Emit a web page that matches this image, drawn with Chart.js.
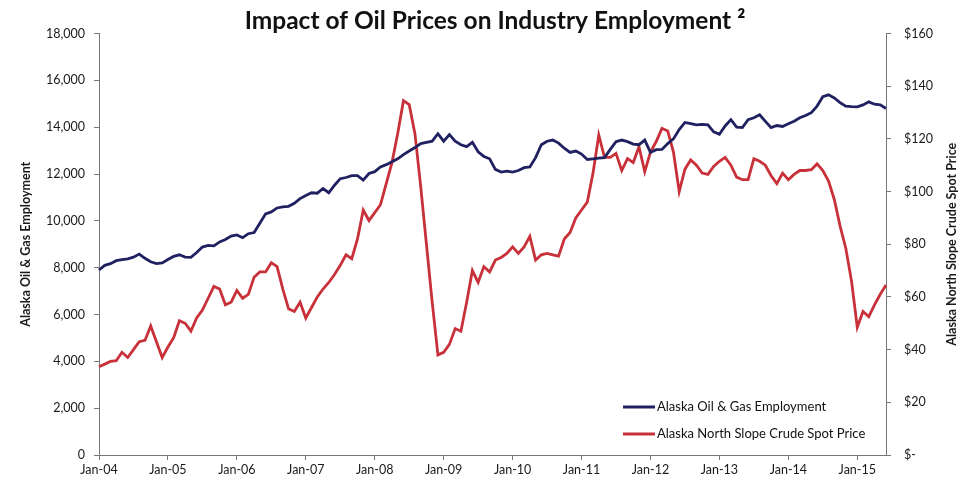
<!DOCTYPE html>
<html lang="en">
<head>
<meta charset="UTF-8">
<title>Impact of Oil Prices on Industry Employment</title>
<script src="https://cdn.jsdelivr.net/npm/chart.js"></script>
<style>
  body { margin: 0; background: #fff; }
  #wrap { width: 972px; height: 482px; }
</style>
</head>
<body>
<div id="wrap"><canvas id="oilChart"></canvas></div>
<script>
// monthly series, Jan-04 .. Jun-15
const monthNames = ['Jan','Feb','Mar','Apr','May','Jun','Jul','Aug','Sep','Oct','Nov','Dec'];
const startYear = 2004;
const monthCount = 138;
const yearTickLabels = ['Jan-04','Jan-05','Jan-06','Jan-07','Jan-08','Jan-09','Jan-10','Jan-11','Jan-12','Jan-13','Jan-14','Jan-15'];
const seriesNames = ['Alaska Oil & Gas Employment', 'Alaska North Slope Crude Spot Price'];

const employment = [
  7900, 8100, 8170, 8300, 8340, 8380, 8450, 8580, 8400, 8250, 8170, 8200,
  8350, 8480, 8550, 8450, 8440, 8650, 8880, 8950, 8930, 9100, 9200, 9350,
  9400, 9280, 9450, 9500, 9900, 10300, 10380, 10550, 10600, 10620, 10750, 10950,
  11080, 11200, 11180, 11380, 11200, 11520, 11800, 11850, 11930, 11930, 11740, 12020,
  12100, 12300, 12400, 12520, 12650, 12830, 12980, 13130, 13300, 13350, 13400, 13720,
  13400, 13680, 13400, 13250, 13170, 13350, 12950, 12750, 12650, 12200, 12080, 12120,
  12080, 12150, 12270, 12300, 12700, 13250, 13400, 13450, 13320, 13100, 12920, 12980,
  12850, 12620, 12650, 12680, 12700, 13050, 13380, 13450, 13380, 13280, 13250, 13450,
  12920, 13040, 13050, 13300, 13500, 13900, 14200, 14150, 14100, 14120, 14100, 13800,
  13700, 14050, 14320, 14000, 13980, 14320, 14400, 14530, 14250, 13980, 14070, 14030,
  14150, 14250, 14400, 14500, 14620, 14900, 15300, 15380, 15250, 15050, 14900, 14880,
  14870, 14950, 15080, 14980, 14950, 14800
];

const crudePrice = [
  33.5, 34.5, 35.5, 35.8, 39, 37, 40, 43, 43.5, 49, 43, 37,
  41, 44.5, 51, 50, 47, 52, 55, 59.5, 64, 63, 57, 58,
  62.5, 59.5, 61, 67.5, 69.5, 69.5, 73, 71.5, 63, 55.5, 54.5, 58,
  52, 56, 60, 63, 65.5, 68.5, 72, 76, 74.5, 82, 93, 89,
  92, 95, 103, 111, 122, 134.5, 133, 122, 102, 80, 58, 38,
  39, 42, 48, 47, 58, 70, 65.5, 71.5, 69.5, 74, 75, 76.5,
  79, 76.5, 79, 83, 74, 76, 76.5, 76, 75.5, 82, 84.5, 90,
  93, 96, 107, 121.5, 113, 113, 114.5, 108, 112.5, 111, 117, 107.5,
  115, 119, 124, 123, 115, 100, 108.5, 112, 110, 107, 106.5, 109.5,
  111.5, 113, 110, 105.5, 104.5, 104.5, 112.5, 111.5, 110, 106, 103, 107,
  104.5, 106.5, 108, 108, 108.3, 110.5, 108, 104, 97, 87, 78.5, 66,
  48.5, 54.5, 52.5, 57, 61, 64.5
];

const monthLabels = Array.from({ length: monthCount }, (_, i) =>
  monthNames[i % 12] + '-' + String((startYear + Math.floor(i / 12)) % 100).padStart(2, '0'));

Chart.defaults.font.family = 'Lato, "Open Sans", sans-serif';
Chart.defaults.color = '#1a1a1a';

// legend inside the plot (bottom right) and the right axis title reading upwards
const extras = {
  id: 'extras',
  afterDraw(chart) {
    const { ctx, chartArea } = chart;
    ctx.save();
    ctx.font = '13px Lato, sans-serif';
    ctx.textBaseline = 'middle';
    chart.data.datasets.forEach((ds, i) => {
      const x = chartArea.right - 263;
      const y = chartArea.bottom - 48 + i * 27;
      ctx.strokeStyle = ds.borderColor;
      ctx.lineWidth = 3;
      ctx.beginPath();
      ctx.moveTo(x, y);
      ctx.lineTo(x + 32, y);
      ctx.stroke();
      ctx.fillStyle = '#111';
      ctx.fillText(ds.label, x + 34, y);
    });

    ctx.translate(chart.width - 20, (chartArea.top + chartArea.bottom) / 2);
    ctx.rotate(-Math.PI / 2);
    ctx.font = 'bold 12.5px Lato, sans-serif';
    ctx.textAlign = 'center';
    ctx.fillStyle = '#1a1a1a';
    ctx.fillText(seriesNames[1], 0, 0);
    ctx.restore();
  }
};

new Chart(document.getElementById('oilChart'), {
  type: 'line',
  data: {
    labels: monthLabels,
    datasets: [
      { label: seriesNames[0], data: employment, yAxisID: 'y', borderColor: '#1f2160', borderWidth: 2.8, pointRadius: 0, tension: 0 },
      { label: seriesNames[1], data: crudePrice, yAxisID: 'y1', borderColor: '#c8303a', borderWidth: 2.8, pointRadius: 0, tension: 0 }
    ]
  },
  options: {
    responsive: true,
    maintainAspectRatio: false,
    animation: false,
    layout: { padding: { left: 18, right: 0, top: 0, bottom: 0 } },
    plugins: {
      legend: { display: false },
      tooltip: { enabled: false },
      title: {
        display: true,
        text: 'Impact of Oil Prices on Industry Employment \u00B2',
        font: { size: 24.5, weight: 'bold', lineHeight: 1.0 },
        color: '#111',
        padding: { top: 9, bottom: 0 }
      }
    },
    scales: {
      x: {
        offset: false,
        afterFit(s) { s.height = 27; },
        border: { display: true, color: '#777' },
        grid: {
          drawOnChartArea: false,
          tickLength: 5,
          color: ctx => (ctx.index % 12 === 0 ? '#777' : 'rgba(0,0,0,0)')
        },
        ticks: {
          autoSkip: false,
          maxRotation: 0,
          minRotation: 0,
          padding: 2,
          font: { size: 12.5 },
          callback: (v, i) => (i % 12 === 0 ? yearTickLabels[i / 12] : '')
        }
      },
      y: {
        position: 'left',
        min: 0,
        max: 18000,
        afterFit(s) { s.width = 81; },
        border: { display: true, color: '#777' },
        grid: { drawOnChartArea: false, tickLength: 5, color: '#777' },
        ticks: {
          stepSize: 2000,
          padding: 9,
          font: { size: 12.5 },
          callback: v => v.toLocaleString('en-US')
        },
        title: {
          display: true,
          text: seriesNames[0],
          font: { size: 12.5, weight: 'bold' },
          padding: { top: 0, bottom: 0 }
        }
      },
      y1: {
        position: 'right',
        min: 0,
        max: 160,
        afterFit(s) { s.width = 86; },
        border: { display: true, color: '#777' },
        grid: { drawOnChartArea: false, tickLength: 5, color: '#777' },
        ticks: {
          stepSize: 20,
          padding: 13,
          font: { size: 12.5 },
          callback: v => (v === 0 ? '$-' : '$' + v)
        }
      }
    }
  },
  plugins: [extras]
});
</script>
</body>
</html>
